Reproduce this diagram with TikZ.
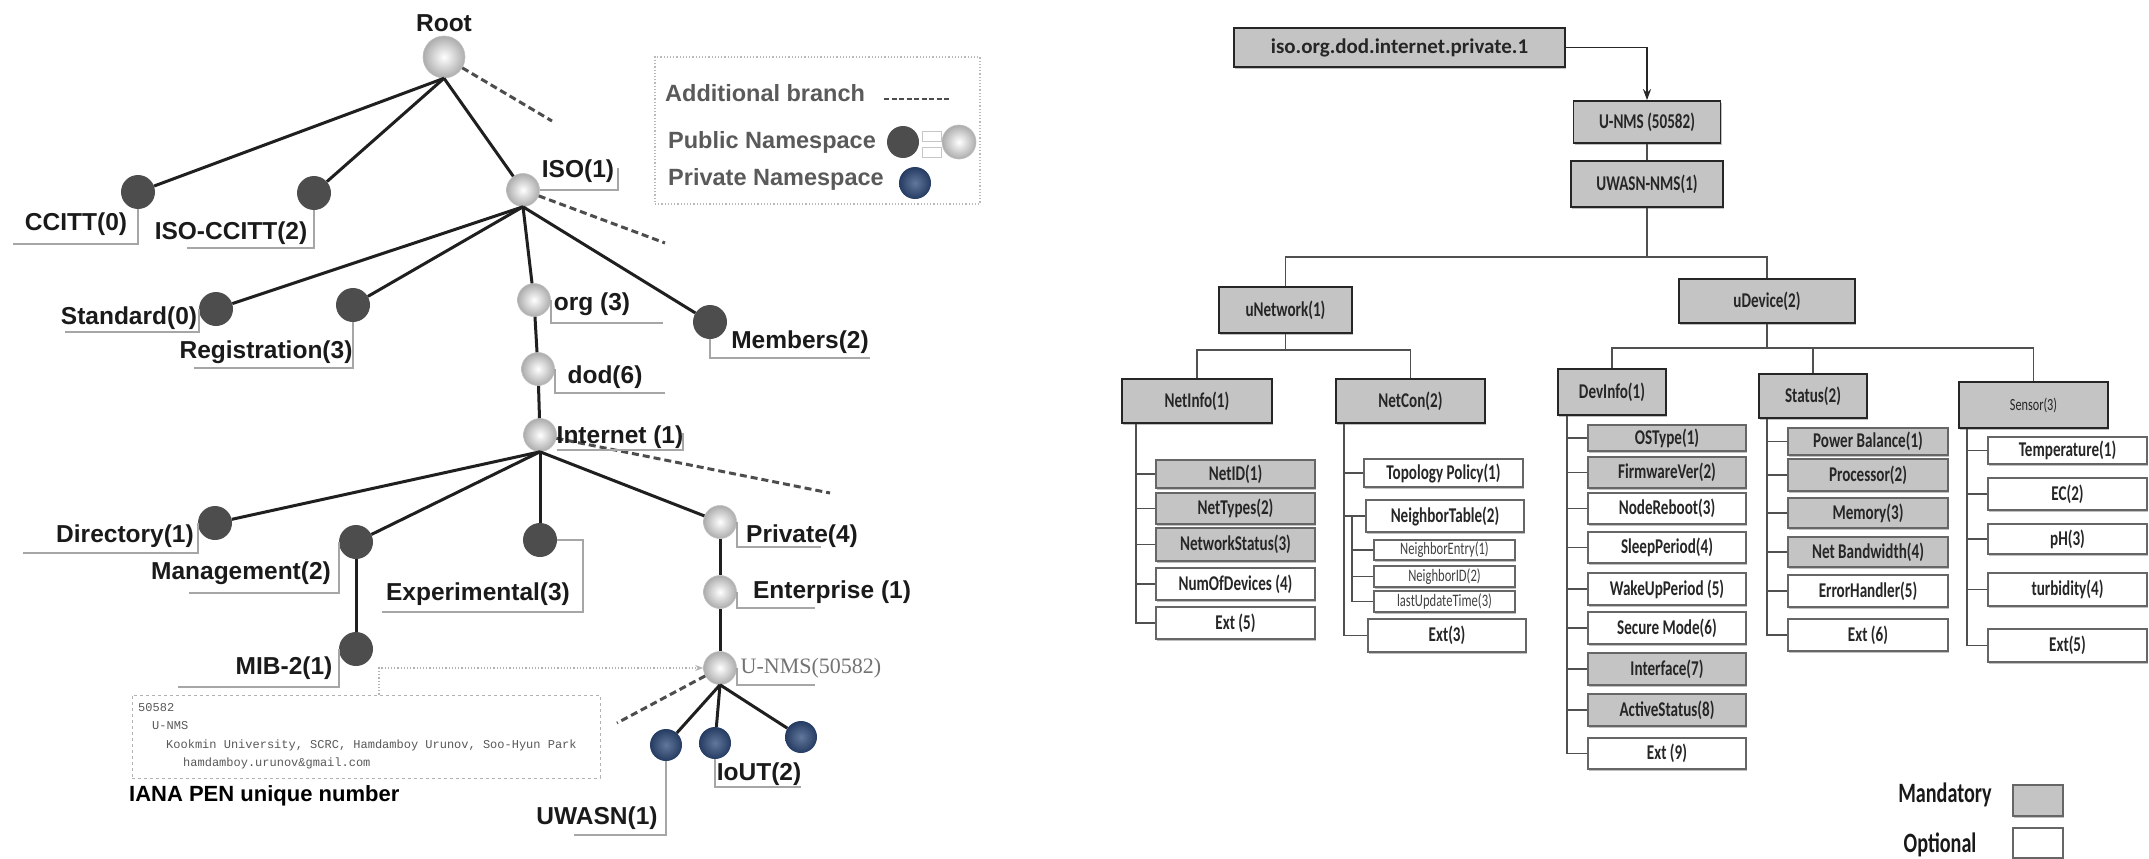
\documentclass[tikz,border=0pt]{standalone}
\usepackage{fontspec}
\setmainfont{Liberation Sans}
\newfontfamily\calfont[FakeStretch=0.72]{Carlito}
\newfontfamily\calwide{Carlito}
\newfontfamily\monofont{Liberation Mono}
\newfontfamily\seriffont{Liberation Serif}
\usetikzlibrary{shadows,arrows.meta}

\definecolor{darknode}{HTML}{4D4D4D}
\definecolor{bluenode}{HTML}{2E4A7A}
\definecolor{labeltext}{HTML}{1A1A1A}
\definecolor{legendtext}{HTML}{5A5A5A}
\definecolor{mandfill}{HTML}{C4C4C4}
\definecolor{treeline}{HTML}{505050}

\tikzset{
  % left tree: OID nodes
  dnode/.style={circle, fill=darknode, minimum size=34pt, inner sep=0pt},
  lnode/.style={circle, inner color=white, outer color=gray!65, draw=gray!50, line width=0.6pt, minimum size=33pt, inner sep=0pt},
  bnode/.style={circle, inner color=bluenode!75!white, outer color=bluenode!80!black, minimum size=32pt, inner sep=0pt},
  lbl/.style={font=\bfseries\fontsize{24.5}{28}\selectfont, text=labeltext, inner sep=0pt},
  leglbl/.style={font=\bfseries\fontsize{23.5}{27}\selectfont, text=legendtext, inner sep=0pt, anchor=west},
  ul/.style={draw=gray!70, line width=1.6pt},
  edge/.style={draw=black!88, line width=3pt},
  addl/.style={draw=darknode, line width=3pt, dash pattern=on 7pt off 4pt},
  monotxt/.style={font=\monofont\fontsize{12}{14}\selectfont, text=black!65, inner sep=0pt, anchor=west},
  % right tree: MIB boxes
  sz/.style 2 args={minimum width=#1pt, minimum height=#2pt},
  boxshadow/.style={drop shadow={shadow xshift=1pt, shadow yshift=-2pt, fill=black!35, opacity=0.7}},
  boxfont/.style={font=\calfont\bfseries\fontsize{21}{24}\selectfont},
  mbox/.style={draw=black!85, line width=1.8pt, fill=mandfill, text=black!85, boxfont, inner sep=0pt, boxshadow},
  leafm/.style={draw=black!60, line width=1.5pt, fill=mandfill, text=black!85, boxfont, inner sep=0pt, boxshadow},
  leafo/.style={leafm, fill=white},
  leafs/.style={leafo, font=\calfont\fontsize{17.5}{20}\selectfont, text=black!75, line width=1.3pt},
  keytxt/.style={font=\calfont\bfseries\fontsize{28}{31}\selectfont, text=black!90, inner sep=0pt},
  rline/.style={draw=treeline, line width=1.8pt},
}

\begin{document}
\begin{tikzpicture}[x=1pt,y=-1pt]
\fill[white] (0,0) rectangle (2149,859);
\useasboundingbox (0,0) rectangle (2149,859);

% ================= left: OID namespace tree =================
\node[lnode, minimum size=42pt] (root) at (444,57) {};
\node[lbl] (troot) at (444,23) {Root};

\node[dnode] (ccitt) at (138,192) {};
\node[dnode] (isoccitt) at (314,193) {};
\node[lnode] (iso) at (523,190) {};
\node[dnode] (std) at (216,309) {};
\node[dnode] (reg) at (353,305) {};
\node[lnode] (org) at (534,300) {};
\node[dnode] (mem) at (710,322) {};
\node[lnode] (dod) at (538,369) {};
\node[lnode] (inet) at (540,435) {};
\node[dnode] (dir) at (215,523) {};
\node[dnode] (mgmt) at (356,542) {};
\node[dnode] (exp) at (540,540) {};
\node[lnode] (priv) at (720,522) {};
\node[dnode] (mib) at (356,649) {};
\node[lnode] (ent) at (720,592) {};
\node[lnode] (unmsc) at (720,668) {};
\node[bnode] (b1) at (666,745) {};
\node[bnode] (b2) at (715,743) {};
\node[bnode] (b3) at (801,737) {};

% solid branches
\draw[edge] (root.south) -- (ccitt);
\draw[edge] (root.south) -- (isoccitt);
\draw[edge] (root.south) -- (iso);
\draw[edge] (iso.south) -- (std);
\draw[edge] (iso.south) -- (reg);
\draw[edge] (iso.south) -- (org);
\draw[edge] (iso.south) -- (mem);
\draw[edge] (org) -- (dod);
\draw[edge] (dod) -- (inet);
\draw[edge] (inet.south) -- (dir);
\draw[edge] (inet.south) -- (mgmt);
\draw[edge] (inet.south) -- (exp);
\draw[edge] (inet.south) -- (priv);
\draw[edge] (mgmt) -- (mib);
\draw[edge] (priv) -- (ent);
\draw[edge] (ent) -- (unmsc);
\draw[edge] (unmsc.south) -- (b1);
\draw[edge] (unmsc.south) -- (b2);
\draw[edge] (unmsc.south) -- (b3);

% additional (dashed) branches
\coordinate (rootx) at (552,121);
\coordinate (isox) at (665,243);
\coordinate (inetx) at (830,493);
\coordinate (unmsx) at (617,723);
\draw[addl] (root) -- (rootx);
\draw[addl] (iso) -- (isox);
\draw[addl] (inet) -- (inetx);
\draw[addl] (unmsc) -- (unmsx);

% labels
\node[lbl] (tccitt) at (76,224) {CCITT(0)};
\node[lbl] (tisoccitt) at (231,233) {ISO-CCITT(2)};
\node[lbl] (tiso) at (578,171) {ISO(1)};
\node[lbl] (tstd) at (129,318) {Standard(0)};
\node[lbl] (treg) at (266,352) {Registration(3)};
\node[lbl] (torg) at (592,304) {org (3)};
\node[lbl] (tdod) at (605,377) {dod(6)};
\node[lbl] (tmem) at (800,342) {Members(2)};
\node[lbl] (tinet) at (620,437) {Internet (1)};
\node[lbl] (tdir) at (125,536) {Directory(1)};
\node[lbl] (tmgmt) at (241,573) {Management(2)};
\node[lbl] (texp) at (478,594) {Experimental(3)};
\node[lbl] (tpriv) at (802,536) {Private(4)};
\node[lbl] (tent) at (832,592) {Enterprise (1)};
\node[lbl] (tmib) at (284,668) {MIB-2(1)};
\node[font=\seriffont\fontsize{22}{26}\selectfont, text=black!55, inner sep=0pt] (tunms) at (811,668) {U-NMS(50582)};
\node[lbl] (tiout) at (759,774) {IoUT(2)};
\node[lbl] (tuwasn) at (597,818) {UWASN(1)};

% label leaders
\draw[ul] (ccitt.south) |- (13,244);
\draw[ul] (isoccitt.south) |- (187,248);
\draw[ul] (iso.east) -| (618,168);
\draw[ul] (std.west) |- (65,332);
\draw[ul] (reg.south) |- (194,368);
\draw[ul] (org.east) |- (663,323);
\draw[ul] (dod.east) |- (665,393);
\draw[ul] (mem.south) |- (870,358);
\draw[ul] (inet.east |- 0,450) -| (683,433);
\draw[ul] (dir.west) |- (23,553);
\draw[ul] (mgmt.west) |- (189,593);
\draw[ul] (exp.east) -| (583,612) -- (382,612);
\draw[ul] (mib.west) |- (178,687);
\draw[ul] (priv.east) |- (821,547);
\draw[ul] (ent.east) |- (815,608);
\draw[ul] (unmsc.east) |- (815,685);
\draw[ul] (b2.south) |- (801,787);
\draw[ul] (b1.south) |- (574,835);

% IANA PEN record
\node[draw=gray!60, dashed, line width=1pt, minimum width=468pt, minimum height=83pt, inner sep=0pt] (iana) at (366,736.5) {};
\node[monotxt] (p1) at (138,708) {50582};
\node[monotxt] (p2) at (152,726) {U-NMS};
\node[monotxt] (p3) at (166,745) {Kookmin University, SCRC, Hamdamboy Urunov, Soo-Hyun Park};
\node[monotxt] (p4) at (183,763) {hamdamboy.urunov\&gmail.com};
\node[lbl, anchor=west, font=\bfseries\fontsize{22}{26}\selectfont, text=black] (tiana) at (129,796) {IANA PEN unique number};
\draw[draw=gray!60, line width=1.2pt, dotted, -{Stealth[length=8pt,width=6pt]}] (iana.north -| 379,0) |- (unmsc.west);

% legend
\node[draw=gray!55, dotted, line width=1.2pt, minimum width=325pt, minimum height=147pt, inner sep=0pt] (legend) at (817.5,130.5) {};
\node[leglbl] (ladd) at (665,93) {Additional branch};
\coordinate (lda) at (884,99);
\coordinate (ldb) at (950,99);
\draw[addl, line width=2.5pt, dash pattern=on 5pt off 2.5pt] (lda) -- (ldb);
\node[leglbl] (lpub) at (668,142) {Public Namespace};
\node[dnode, minimum size=32pt] (lpd) at (903,142) {};
\node[draw=gray!45, fill=white, line width=0.8pt, minimum width=19pt, minimum height=10pt, inner sep=0pt] (lor1) at (932,136) {};
\node[draw=gray!45, fill=white, line width=0.8pt, minimum width=19pt, minimum height=10pt, inner sep=0pt] (lor2) at (932,152) {};
\node[lnode, minimum size=34pt] (lpl) at (959,142) {};
\node[leglbl] (lprv) at (668,179) {Private Namespace};
\node[bnode] (lpb) at (915,183) {};

% ================= right: U-NMS MIB tree =================
\node[mbox, sz={331}{39}, font=\calwide\bfseries\fontsize{21}{24}\selectfont] (isobox) at (1399.5,47.5) {iso.org.dod.internet.private.1};
\node[mbox, sz={147}{42}] (unms) at (1647,122) {U-NMS (50582)};
\node[mbox, sz={152}{46}] (uwnms) at (1647,184) {UWASN-NMS(1)};
\node[mbox, sz={133}{46}] (unet) at (1285.5,310) {uNetwork(1)};
\node[mbox, sz={176}{44}] (udev) at (1767,301) {uDevice(2)};
\node[mbox, sz={150}{44}] (netinfo) at (1197,401) {NetInfo(1)};
\node[mbox, sz={149}{44}] (netcon) at (1410.5,401) {NetCon(2)};
\node[mbox, sz={108}{46}] (devinfo) at (1612,392) {DevInfo(1)};
\node[mbox, sz={108}{44}] (status) at (1813,396) {Status(2)};
\node[mbox, sz={149}{46}, font=\calfont\fontsize{17}{20}\selectfont] (sensor) at (2033.5,405) {Sensor(3)};

\draw[rline, draw=black!85, -{Stealth[length=11pt,width=8pt]}] (isobox.east) -| (unms.north);
\draw[rline] (unms.south) -- (uwnms.north);
\draw[rline] (uwnms.south) -- (uwnms.south |- 0,257);
\draw[rline] (unet.north) -- (unet.north |- 0,257) -- (udev.north |- 0,257) -- (udev.north);
\draw[rline] (unet.south) -- (unet.south |- 0,350);
\draw[rline] (netinfo.north) -- (netinfo.north |- 0,350) -- (netcon.north |- 0,350) -- (netcon.north);
\draw[rline] (udev.south) -- (udev.south |- 0,348);
\draw[rline] (devinfo.north) -- (devinfo.north |- 0,348) -- (sensor.north |- 0,348) -- (sensor.north);
\draw[rline] (status.north) -- (status.north |- 0,348);

% NetInfo leaves
\node[leafm, sz={159}{28}] (netid) at (1235.5,474) {NetID(1)};
\node[leafm, sz={159}{31}] (nettypes) at (1235.5,508.5) {NetTypes(2)};
\node[leafm, sz={159}{33}] (netstat) at (1235.5,544.5) {NetworkStatus(3)};
\node[leafo, sz={159}{32}] (numdev) at (1235.5,584) {NumOfDevices (4)};
\node[leafo, sz={159}{32}] (exta) at (1235.5,623) {Ext (5)};
\draw[rline] (netinfo.south -| 1136,0) |- (exta.west);
\foreach \n in {netid,nettypes,netstat,numdev}
  \draw[rline] (\n.west) -- (\n.west -| 1136,0);

% NetCon leaves
\node[leafo, sz={159}{28}] (topo) at (1443.5,473) {Topology Policy(1)};
\node[leafo, sz={158}{32}] (ntable) at (1445,516) {NeighborTable(2)};
\node[leafs, sz={141}{20}] (nentry) at (1444.5,550) {NeighborEntry(1)};
\node[leafs, sz={141}{21}] (nid) at (1444.5,576.5) {NeighborID(2)};
\node[leafs, sz={141}{21}] (lut) at (1444.5,601.5) {lastUpdateTime(3)};
\node[leafo, sz={158}{33}] (extb) at (1447,635.5) {Ext(3)};
\draw[rline] (netcon.south -| 1344,0) |- (extb.west);
\foreach \n in {topo,ntable}
  \draw[rline] (\n.west) -- (\n.west -| 1344,0);
\draw[rline, line width=1.4pt] (ntable.west -| 1352,0) |- (lut.west);
\foreach \n in {nentry,nid}
  \draw[rline, line width=1.4pt] (\n.west) -- (\n.west -| 1352,0);

% DevInfo leaves
\node[leafm, sz={158}{26}] (ostype) at (1667,438) {OSType(1)};
\node[leafm, sz={158}{31}] (fw) at (1667,472.5) {FirmwareVer(2)};
\node[leafo, sz={158}{31}] (reboot) at (1667,508.5) {NodeReboot(3)};
\node[leafo, sz={158}{31}] (sleep) at (1667,547.5) {SleepPeriod(4)};
\node[leafo, sz={158}{32}] (wake) at (1667,589) {WakeUpPeriod (5)};
\node[leafo, sz={158}{32}] (secure) at (1667,628) {Secure Mode(6)};
\node[leafm, sz={158}{32}] (iface) at (1667,669) {Interface(7)};
\node[leafm, sz={158}{32}] (active) at (1667,710) {ActiveStatus(8)};
\node[leafo, sz={158}{31}] (extc) at (1667,753.5) {Ext (9)};
\draw[rline] (devinfo.south -| 1567,0) |- (extc.west);
\foreach \n in {ostype,fw,reboot,sleep,wake,secure,iface,active}
  \draw[rline] (\n.west) -- (\n.west -| 1567,0);

% Status leaves
\node[leafm, sz={160}{27}] (power) at (1868,441.5) {Power Balance(1)};
\node[leafm, sz={160}{32}] (proc) at (1868,475) {Processor(2)};
\node[leafm, sz={160}{30}] (memory) at (1868,513) {Memory(3)};
\node[leafm, sz={160}{30}] (netbw) at (1868,552) {Net Bandwidth(4)};
\node[leafo, sz={160}{32}] (errh) at (1868,591) {ErrorHandler(5)};
\node[leafo, sz={160}{32}] (extd) at (1868,635) {Ext (6)};
\draw[rline] (status.south -| 1767,0) |- (extd.west);
\foreach \n in {power,proc,memory,netbw,errh}
  \draw[rline] (\n.west) -- (\n.west -| 1767,0);

% Sensor leaves
\node[leafo, sz={159}{27}] (temp) at (2067.5,450.5) {Temperature(1)};
\node[leafo, sz={159}{32}] (ec) at (2067.5,494) {EC(2)};
\node[leafo, sz={159}{30}] (ph) at (2067.5,539) {pH(3)};
\node[leafo, sz={159}{33}] (turb) at (2067.5,589.5) {turbidity(4)};
\node[leafo, sz={159}{33}] (exte) at (2067.5,645.5) {Ext(5)};
\draw[rline] (sensor.south -| 1967,0) |- (exte.west);
\foreach \n in {temp,ec,ph,turb}
  \draw[rline] (\n.west) -- (\n.west -| 1967,0);

% key
\node[keytxt] (kmand) at (1945,795) {Mandatory};
\node[leafm, sz={50}{31}] (kmbox) at (2038,800.5) {};
\node[keytxt] (kopt) at (1940,845) {Optional};
\node[leafo, sz={50}{30}] (kobox) at (2038,843) {};
\end{tikzpicture}
\end{document}
